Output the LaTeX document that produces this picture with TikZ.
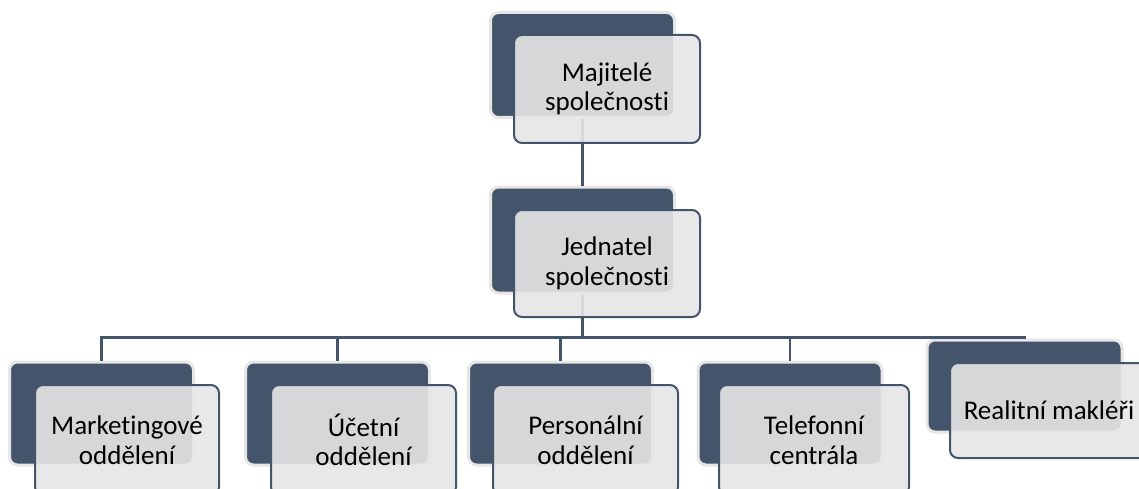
\documentclass[tikz,border=0pt]{standalone}
\usepackage{fontspec}
\setmainfont{Carlito}[Ligatures=NoCommon]
\definecolor{navy}{HTML}{44546A}
\definecolor{rim}{HTML}{E6E6E6}
\definecolor{pale}{HTML}{E6E6E6}
\tikzset{
  darkbox/.style={draw=rim, line width=3pt, fill=navy, rounded corners=8pt, inner sep=0pt, minimum width=184pt, minimum height=103pt},
  lightbox/.style={draw=navy, line width=2pt, fill=pale, fill opacity=0.9, text opacity=1, rounded corners=8pt, inner sep=0pt, minimum width=186pt, minimum height=108pt, align=center, font=\fontsize{27}{29.5}\selectfont, text=black},
  conn/.style={draw=navy, line width=2.2pt}
}
\begin{document}
\begin{tikzpicture}[x=1pt,y=-1pt]
\useasboundingbox (0,0) rectangle (1139,489);
% dark boxes
\node[darkbox, minimum height=105pt] (d1) at (582.5,65) {};
\node[darkbox, minimum height=106pt] (d2) at (582.5,240) {};
\node[darkbox] (d3) at (101.5,413.5) {};
\node[darkbox] (d4) at (337.5,413.5) {};
\node[darkbox] (d5) at (560.5,413.5) {};
\node[darkbox] (d6) at (790,413.5) {};
\node[darkbox, minimum width=195pt, minimum height=92pt] (d7) at (1024.5,386) {};
% connectors
\coordinate (bar) at (582.5,337.5);
\draw[conn] (d1.south) -- (d2.north);
\draw[conn] (d2.south) -- (bar);
\draw[conn] (bar) -| (d3.north);
\draw[conn] (bar) -| (d4.north);
\draw[conn] (bar) -| (d5.north);
\draw[conn] (bar) -| (d6.north);
\draw[conn] (bar) -| (d7.north);
% light boxes
\node[lightbox] (l1) at (607,89) {Majitelé\\společnosti};
\node[lightbox, minimum height=107pt] (l2) at (607,263.5) {Jednatel\\společnosti};
\node[lightbox, minimum width=184pt, minimum height=110pt] (l3) at (127,440) {Marketingové\\oddělení};
\node[lightbox, minimum width=185pt, minimum height=110pt] (l4) at (363.5,440) {Účetní\\oddělení};
\node[lightbox, minimum width=185pt, minimum height=110pt] (l5) at (585.5,440) {Personální\\oddělení};
\node[lightbox, minimum width=190pt, minimum height=110pt] (l6) at (814,440) {Telefonní\\centrála};
\node[lightbox, minimum width=198pt, minimum height=95pt] (l7) at (1049,410.5) {Realitní makléři};
\end{tikzpicture}
\end{document}
